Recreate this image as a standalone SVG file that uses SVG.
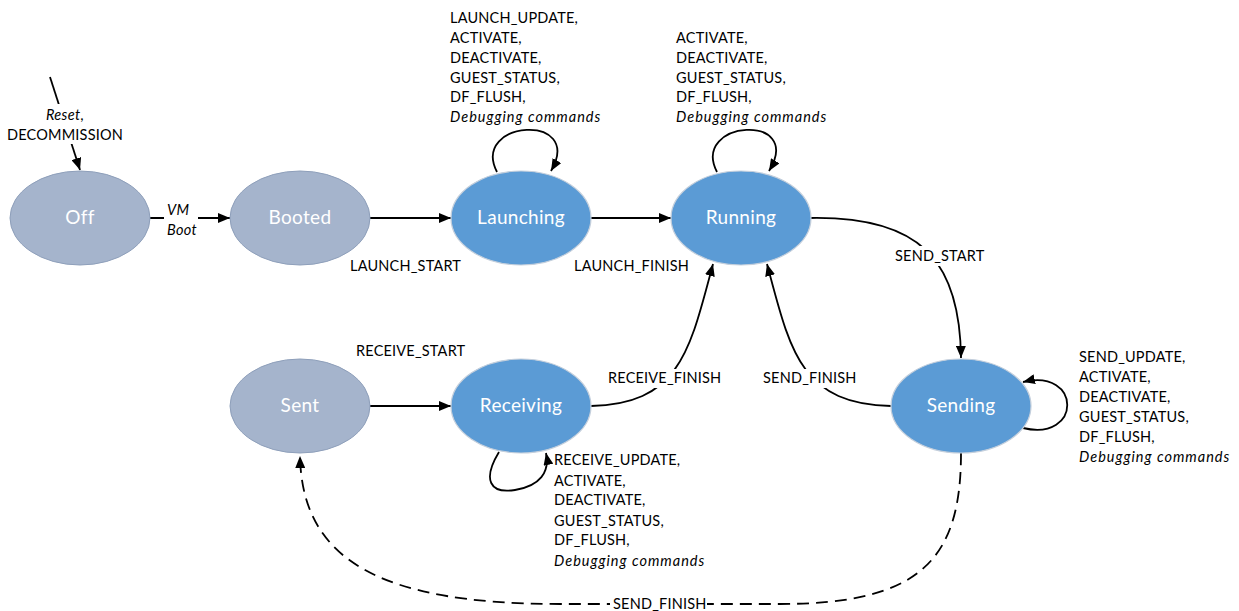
<svg xmlns="http://www.w3.org/2000/svg" width="1239" height="611" viewBox="0 0 1239 611">
<style>
.grey{fill:#A5B4CC;stroke:#8E9FBA;stroke-width:1}
.blue{fill:#5B9BD5;stroke:#C4CFDC;stroke-width:1.2}
.nl{font-family:Lato,"Liberation Sans",sans-serif;font-size:19px;fill:#FFFFFF;text-anchor:middle;letter-spacing:0.3px}
.t{font-family:Lato,"Liberation Sans",sans-serif;font-size:14.5px;fill:#000000;letter-spacing:0.2px}
.i{font-style:italic;letter-spacing:1px}
.c{fill:none;stroke:#000000;stroke-width:1.8}
.a{marker-end:url(#arr)}
.d{stroke-dasharray:12 7}
.bg{fill:#FFFFFF}
</style>
<defs>
<marker id="arr" viewBox="0 0 12 10" refX="12" refY="5" markerWidth="12" markerHeight="10" markerUnits="userSpaceOnUse" orient="auto">
<path d="M0,0 L12,5 L0,10 z" fill="#000000"/>
</marker>
</defs>

<g id="connectors">
<line class="c a" x1="50" y1="77" x2="80" y2="170"/>
<line class="c a" x1="150" y1="218" x2="230" y2="218"/>
<line class="c a" x1="370" y1="218" x2="451" y2="218"/>
<line class="c a" x1="590" y1="218" x2="671" y2="218"/>
<line class="c a" x1="370" y1="406" x2="451" y2="406"/>
<path class="c a" d="M497 172 C470 120, 585 112, 551 171"/>
<path class="c a" d="M717 172 C690 120, 805 112, 769 171"/>
<path class="c a" d="M810 218 C920 216, 960 260, 961 358"/>
<path class="c a" d="M1023 428 C1082 442, 1082 368, 1023 382"/>
<path class="c a" d="M891 406 C800 404, 790 350, 767 264"/>
<path class="c a" d="M591 406 C680 404, 690 350, 713 264"/>
<path class="c a" d="M499 452 C482 480, 490 494, 515 490 C540 486, 550 472, 546 453"/>
<path class="c d a" d="M961 453 C961 560, 920 604, 780 604 L560 604 C380 604, 302 560, 300 456"/>
</g>

<g id="node-off">
<ellipse class="grey" cx="80" cy="218" rx="70" ry="47"/>
<text class="nl" x="80" y="224">Off</text>
</g>
<g id="node-booted">
<ellipse class="grey" cx="300" cy="218" rx="70" ry="47"/>
<text class="nl" x="300" y="224">Booted</text>
</g>
<g id="node-launching">
<ellipse class="blue" cx="521" cy="218" rx="70" ry="47"/>
<text class="nl" x="521" y="224">Launching</text>
</g>
<g id="node-running">
<ellipse class="blue" cx="741" cy="218" rx="70" ry="47"/>
<text class="nl" x="741" y="224">Running</text>
</g>
<g id="node-sending">
<ellipse class="blue" cx="961" cy="406" rx="70" ry="47"/>
<text class="nl" x="961" y="412">Sending</text>
</g>
<g id="node-sent">
<ellipse class="grey" cx="300" cy="406" rx="70" ry="47"/>
<text class="nl" x="300" y="412">Sent</text>
</g>
<g id="node-receiving">
<ellipse class="blue" cx="521" cy="406" rx="70" ry="47"/>
<text class="nl" x="521" y="412">Receiving</text>
</g>

<g id="labels">
<rect class="bg" x="4" y="104" width="122" height="40"/>
<text class="t i" x="65" y="120" text-anchor="middle" style="letter-spacing:0.3px">Reset<tspan font-style="normal">,</tspan></text>
<text class="t" x="65" y="140" text-anchor="middle">DECOMMISSION</text>

<rect class="bg" x="164" y="198" width="34" height="40"/>
<text class="t i" x="167" y="215" style="letter-spacing:0.3px">VM</text>
<text class="t i" x="167" y="235" style="letter-spacing:0.3px">Boot</text>

<text class="t" x="350" y="271">LAUNCH_START</text>
<text class="t" x="574" y="271">LAUNCH_FINISH</text>

<rect class="bg" x="892" y="246" width="94" height="20"/>
<text class="t" x="895" y="261">SEND_START</text>

<text class="t" x="356" y="356">RECEIVE_START</text>

<rect class="bg" x="605" y="369" width="115" height="19"/>
<text class="t" x="608" y="383">RECEIVE_FINISH</text>

<rect class="bg" x="760" y="369" width="95" height="19"/>
<text class="t" x="763" y="383">SEND_FINISH</text>

<rect class="bg" x="610" y="595" width="97" height="16"/>
<text class="t" x="613" y="609">SEND_FINISH</text>

<text class="t" x="450" y="23">LAUNCH_UPDATE,</text>
<text class="t" x="450" y="43">ACTIVATE,</text>
<text class="t" x="450" y="63">DEACTIVATE,</text>
<text class="t" x="450" y="83">GUEST_STATUS,</text>
<text class="t" x="450" y="102">DF_FLUSH,</text>
<text class="t i" x="450" y="122">Debugging commands</text>

<text class="t" x="676" y="43">ACTIVATE,</text>
<text class="t" x="676" y="63">DEACTIVATE,</text>
<text class="t" x="676" y="83">GUEST_STATUS,</text>
<text class="t" x="676" y="102">DF_FLUSH,</text>
<text class="t i" x="676" y="122">Debugging commands</text>

<text class="t" x="1079" y="362">SEND_UPDATE,</text>
<text class="t" x="1079" y="382">ACTIVATE,</text>
<text class="t" x="1079" y="402">DEACTIVATE,</text>
<text class="t" x="1079" y="422">GUEST_STATUS,</text>
<text class="t" x="1079" y="442">DF_FLUSH,</text>
<text class="t i" x="1079" y="462">Debugging commands</text>

<text class="t" x="554" y="465">RECEIVE_UPDATE,</text>
<text class="t" x="554" y="486">ACTIVATE,</text>
<text class="t" x="554" y="505">DEACTIVATE,</text>
<text class="t" x="554" y="526">GUEST_STATUS,</text>
<text class="t" x="554" y="545">DF_FLUSH,</text>
<text class="t i" x="554" y="566">Debugging commands</text>
</g>
</svg>
